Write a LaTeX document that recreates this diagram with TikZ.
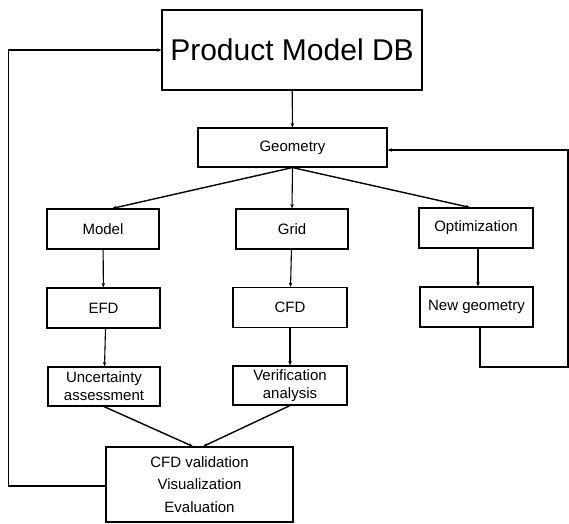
\documentclass[tikz,border=0pt]{standalone}
\usepackage{fontspec}
\setmainfont{Liberation Sans}
\usetikzlibrary{arrows.meta}

\begin{document}
\begin{tikzpicture}[x=1pt, y=-1pt, line width=1.1pt,
  kutu/.style={draw, inner sep=0pt, minimum width=113pt, minimum height=40pt,
    align=center, font=\fontsize{15}{18}\selectfont},
  ok/.style={-{Stealth[length=4.5pt,width=3.5pt]}},
  egik/.style={ok, line width=1.4pt}]
  \useasboundingbox (0,0) rectangle (569,523);

  % ---- 1) ust: veritabani ve geometri ----
  \node[kutu, minimum width=260pt, minimum height=80pt,
    font=\fontsize{30}{36}\selectfont] (pmdb) at (292,50) {Product Model DB};
  \node[kutu, minimum width=189pt, minimum height=39pt] (geo) at (292.5,147.5) {Geometry};

  % ---- 2) uc kol ----
  \node[kutu, minimum width=112pt] (model) at (103,229) {Model};
  \node[kutu, minimum width=112pt] (grid) at (292,229) {Grid};
  \node[kutu, minimum width=114pt] (opt) at (476,228) {Optimization};

  \node[kutu] (efd) at (103.5,308) {EFD};
  \node[kutu, minimum width=114pt] (cfd) at (290,307.5) {CFD};
  \node[kutu] (newgeo) at (476.5,307) {New geometry};

  \node[kutu, minimum width=112pt, minimum height=39pt] (unc) at (104,386.5)
    {Uncertainty\\assessment};
  \node[kutu, minimum width=114pt, minimum height=39pt] (ver) at (290,385.5)
    {Verification\\analysis};

  % ---- 3) alt: dogrulama ----
  \node[kutu, minimum width=187pt, minimum height=75pt,
    font=\fontsize{15}{22.5}\selectfont] (val) at (199.5,484.5)
    {CFD validation\\Visualization\\Evaluation};

  % --- oklar ---
  \draw[ok] (pmdb) -- (geo);
  \draw[egik] (geo.south) -- ([xshift=9pt]model.north);
  \draw[ok] (geo.south) -- (grid.north);
  \draw[egik] (geo.south) -- ([xshift=-6pt]opt.north);
  \draw[ok] (model) -- (efd);
  \draw[ok] (grid) -- (cfd);
  \draw[ok] ([xshift=2pt]opt.south) -- ([xshift=1.5pt]newgeo.north);
  \draw[ok] ([xshift=2pt]efd.south) -- (unc);
  \draw[ok] (cfd) -- (ver);
  \draw[egik] (unc.south) -- ([xshift=-6.5pt]val.north);
  \draw[egik] (ver.south) -- ([xshift=3.5pt]val.north);

  % --- geri besleme hatlari ---
  \coordinate (sag) at (568,367);
  \draw[ok] ([yshift=-1.5pt]val.west) -- ++(-97,0) |- (pmdb.west);
  \draw[ok] ([xshift=3.5pt]newgeo.south) |- (sag) |- ([yshift=-2.5pt]geo.east);
\end{tikzpicture}
\end{document}
